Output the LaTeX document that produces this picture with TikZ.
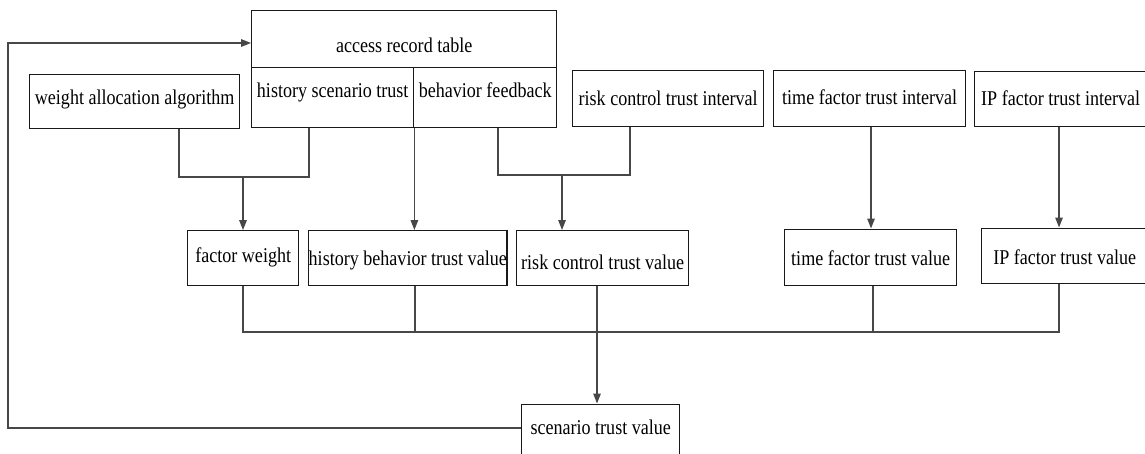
\documentclass[tikz,border=0pt]{standalone}
\usepackage{fontspec}
\setmainfont{Liberation Serif}[FakeStretch=0.86]
\usetikzlibrary{arrows.meta}
\begin{document}
\begin{tikzpicture}[x=1pt,y=-1pt,
  box/.style={draw=black!90,line width=1.4pt,inner sep=0pt,anchor=north west,
    font=\fontsize{21}{24}\selectfont},
  conn/.style={draw=black!72,line width=1.4pt},
  arr/.style={conn,-{Triangle[length=10pt,width=7.5pt]}}]
\useasboundingbox (0,0) rectangle (1145,453);
% top row
\node[box,minimum width=305pt,minimum height=56.5pt,text height=38pt,text depth=10pt] (art) at (251,10) {access record table};
\node[box,minimum width=162pt,minimum height=60.5pt,text height=10pt,text depth=10pt] (hst) at (251,66.5) {history scenario trust};
\node[box,minimum width=143pt,minimum height=60.5pt,text height=10pt,text depth=10pt] (bf) at (413,66.5) {behavior feedback};
\node[box,minimum width=210pt,minimum height=54pt,text height=16pt,text depth=10pt] (wa) at (29,74) {weight allocation algorithm};
\node[box,minimum width=191pt,minimum height=56.5pt,text height=24.6pt,text depth=10pt] (rci) at (572,69.5) {risk control trust interval};
\node[box,minimum width=192pt,minimum height=56.5pt,text height=21.2pt,text depth=10pt] (tfi) at (773,69.5) {time factor trust interval};
\node[box,minimum width=172pt,minimum height=55pt,text height=22.6pt,text depth=10pt] (ipi) at (974,71) {IP factor trust interval};
% middle row
\node[box,minimum width=111pt,minimum height=55pt,text height=18.4pt,text depth=10pt] (fw) at (187,230) {factor weight};
\node[box,minimum width=198pt,minimum height=55pt,text height=25pt,text depth=10pt] (hbv) at (308,230) {history behavior trust value};
\node[box,minimum width=172pt,minimum height=55pt,text height=31.6pt,text depth=10pt] (rcv) at (516,230) {risk control trust value};
\node[box,minimum width=172pt,minimum height=56pt,text height=27.4pt,text depth=10pt] (tfv) at (784,228.5) {time factor trust value};
\node[box,minimum width=166pt,minimum height=55.5pt,text height=26.6pt,text depth=10pt] (ipv) at (981,227.5) {IP factor trust value};
% bottom
\node[box,minimum width=158pt,minimum height=53pt,text height=16.8pt,text depth=10pt] (stv) at (521,403.5) {scenario trust value};
% junctions
\coordinate (j1) at (243,177);
\coordinate (j2) at (562,175);
\coordinate (bl) at (243,332);
\coordinate (br) at (1059,332);
\coordinate (fb) at (8,43);
% connectors
\draw[conn] (wa.south -| 179,0) |- (j1) -| (hst.south -| 309,0);
\draw[arr] (j1) -- (fw.north -| j1);
\draw[arr] (hst.south east) -- (hst.south east |- hbv.north);
\draw[conn] (bf.south -| 498,0) |- (j2) -| (rci.south -| 630,0);
\draw[arr] (j2) -- (rcv.north -| j2);
\draw[arr] (tfi.south -| 871,0) -- (tfv.north -| 871,0);
\draw[arr] (ipi.south -| 1059,0) -- (ipv.north -| 1059,0);
\draw[conn] (fw.south -| bl) -- (bl) -- (br) -- (ipv.south -| br);
\draw[conn] (hbv.south -| 415,0) -- (415,332);
\draw[conn] (tfv.south -| 873,0) -- (873,332);
\draw[arr] (rcv.south -| 597,0) -- (stv.north -| 597,0);
\draw[arr] (stv.west |- 0,428) -| (fb) -- (art.west |- fb);
\end{tikzpicture}
\end{document}
